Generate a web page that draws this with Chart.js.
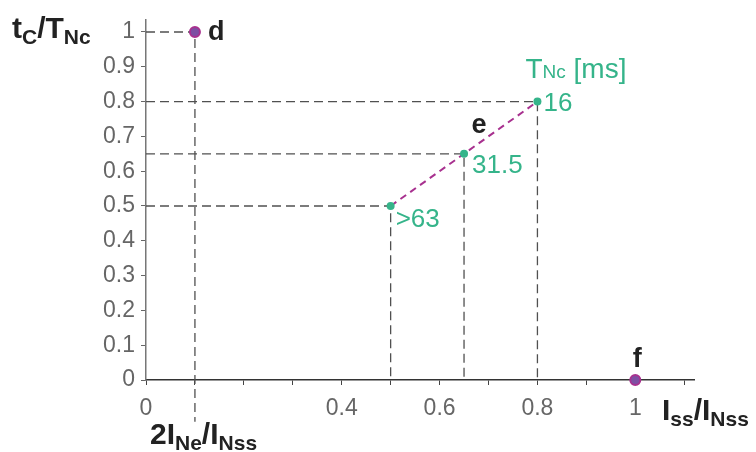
<!DOCTYPE html>
<html>
<head>
<meta charset="utf-8">
<script src="https://cdn.jsdelivr.net/npm/chart.js@4.4.0/dist/chart.umd.min.js"></script>
<style>
  html, body { margin: 0; background: #fff; }
  #wrap { width: 756px; height: 452px; }
</style>
</head>
<body>
<div id="wrap"><canvas id="chart"></canvas></div>
<script>
// axis ticks
const xTicks = [0, 0.1, 0.2, 0.3, 0.4, 0.5, 0.6, 0.7, 0.8, 0.9, 1, 1.1];
const xTickLabels = ['0', '', '', '', '0.4', '', '0.6', '', '0.8', '', '1', ''];
const yTicks = [0, 0.1, 0.2, 0.3, 0.4, 0.5, 0.6, 0.7, 0.8, 0.9, 1];
const yTickLabels = ['0', '0.1', '0.2', '0.3', '0.4', '0.5', '0.6', '0.7', '0.8', '0.9', '1'];

// curve e (Iss/INss, tc/TNc) and its TNc labels
const eX = [0.5, 0.65, 0.8];
const eY = [0.5, 0.65, 0.8];
const eLabels = ['>63', '31.5', '16'];

// end points d and f
const endX = [0.1, 1];
const endY = [1, 0];
const endNames = ['d', 'f'];

const green = '#35b48a';
const magenta = '#a8318f';
const tickFont = { family: 'Liberation Sans', size: 23 };

const toPts = (xs, ys) => xs.map((x, i) => ({ x: x, y: ys[i] }));

// dashed guide lines from the y axis to each point and down to the x axis
const guides = [];
const guideX = [endX[0]].concat(eX);
const guideY = [endY[0]].concat(eY);
guideX.forEach((x, i) => {
    guides.push({
        data: [{ x: 0, y: guideY[i] }, { x: x, y: guideY[i] }, { x: x, y: i === 0 ? -0.12 : 0 }],
        showLine: true,
        borderColor: '#505050',
        borderWidth: 1.3,
        borderDash: [9, 5],
        pointRadius: 0,
        clip: false,
        order: 3
    });
});

// rich text helper: parts = [text, size, dy]
function rich(ctx, x, y, parts, color, weight) {
    ctx.fillStyle = color;
    ctx.textBaseline = 'alphabetic';
    ctx.textAlign = 'left';
    parts.forEach(p => {
        ctx.font = weight + ' ' + p[1] + 'px "Liberation Sans"';
        ctx.fillText(p[0], x, y + p[2]);
        x += ctx.measureText(p[0]).width;
    });
}

const labelPlugin = {
    id: 'labels',
    afterDatasetsDraw(chart) {
        const ctx = chart.ctx;
        const xs = chart.scales.x, ys = chart.scales.y;
        ctx.save();
        // TNc values next to the points
        const off = [[5, 21], [8, 19], [6, 9]];
        eX.forEach((v, i) => {
            const px = xs.getPixelForValue(v), py = ys.getPixelForValue(eY[i]);
            rich(ctx, px + off[i][0], py + off[i][1], [[eLabels[i], 26, 0]], green, 'normal');
        });
        const top = [xs.getPixelForValue(eX[2]), ys.getPixelForValue(eY[2])];
        rich(ctx, top[0] - 12, top[1] - 24, [['T', 28, 0], ['Nc', 19, 0], [' [ms]', 28, 0]], green, 'normal');
        // point names
        ctx.font = 'bold 27px "Liberation Sans"';
        ctx.fillStyle = '#222';
        const d = [xs.getPixelForValue(endX[0]), ys.getPixelForValue(endY[0])];
        ctx.fillText(endNames[0], d[0] + 13, d[1] + 8);
        const f = [xs.getPixelForValue(endX[1]), ys.getPixelForValue(endY[1])];
        ctx.textAlign = 'center';
        ctx.fillText(endNames[1], f[0] + 2, f[1] - 13);
        const e = [xs.getPixelForValue(eX[1]), ys.getPixelForValue(eY[1])];
        ctx.fillText('e', e[0] + 15, e[1] - 21);
        // axis titles
        rich(ctx, 12, 38, [['t', 30, 0], ['C', 21, 6], ['/T', 30, 0], ['Nc', 21, 6]], '#222', 'bold');
        rich(ctx, 150, 444, [['2I', 30, 0], ['Ne', 21, 6], ['/I', 30, 0], ['Nss', 21, 6]], '#222', 'bold');
        rich(ctx, 662, 420, [['I', 30, 0], ['ss', 21, 6], ['/I', 30, 0], ['Nss', 21, 6]], '#222', 'bold');
        ctx.restore();
    }
};

new Chart(document.getElementById('chart'), {
    type: 'scatter',
    data: {
        datasets: [
            {
                data: toPts(endX, endY),
                pointRadius: 5,
                pointBackgroundColor: '#7d4fa3',
                pointBorderColor: magenta,
                pointBorderWidth: 2,
                clip: false,
                order: 1
            },
            {
                data: toPts(eX, eY),
                showLine: true,
                borderColor: magenta,
                borderWidth: 2,
                borderDash: [7, 5],
                pointRadius: 4,
                pointBackgroundColor: green,
                pointBorderWidth: 0,
                order: 2
            }
        ].concat(guides)
    },
    options: {
        responsive: true,
        maintainAspectRatio: false,
        animation: false,
        layout: { padding: { top: 13, right: 62, left: 0, bottom: 0 } },
        plugins: { legend: { display: false }, tooltip: { enabled: false } },
        scales: {
            x: {
                type: 'linear',
                min: 0,
                max: 1.12,
                afterBuildTicks: s => { s.ticks = xTicks.map(v => ({ value: v })); },
                afterFit: s => { s.height = 72; },
                ticks: {
                    autoSkip: false,
                    maxRotation: 0,
                    padding: 10,
                    color: '#666',
                    font: tickFont,
                    callback: v => xTickLabels[xTicks.indexOf(v)]
                },
                grid: { drawOnChartArea: false, tickLength: 5, color: '#444' },
                border: { color: '#333', width: 1.5 }
            },
            y: {
                type: 'linear',
                min: 0,
                max: 1.035,
                afterBuildTicks: s => { s.ticks = yTicks.map(v => ({ value: v })); },
                afterFit: s => { s.width = 146; },
                ticks: {
                    autoSkip: false,
                    padding: 6,
                    color: '#666',
                    font: tickFont,
                    callback: v => yTickLabels[yTicks.indexOf(v)]
                },
                grid: { drawOnChartArea: false, tickLength: 5, color: '#666' },
                border: { color: '#777', width: 1.5 }
            }
        }
    },
    plugins: [labelPlugin]
});
</script>
</body>
</html>
